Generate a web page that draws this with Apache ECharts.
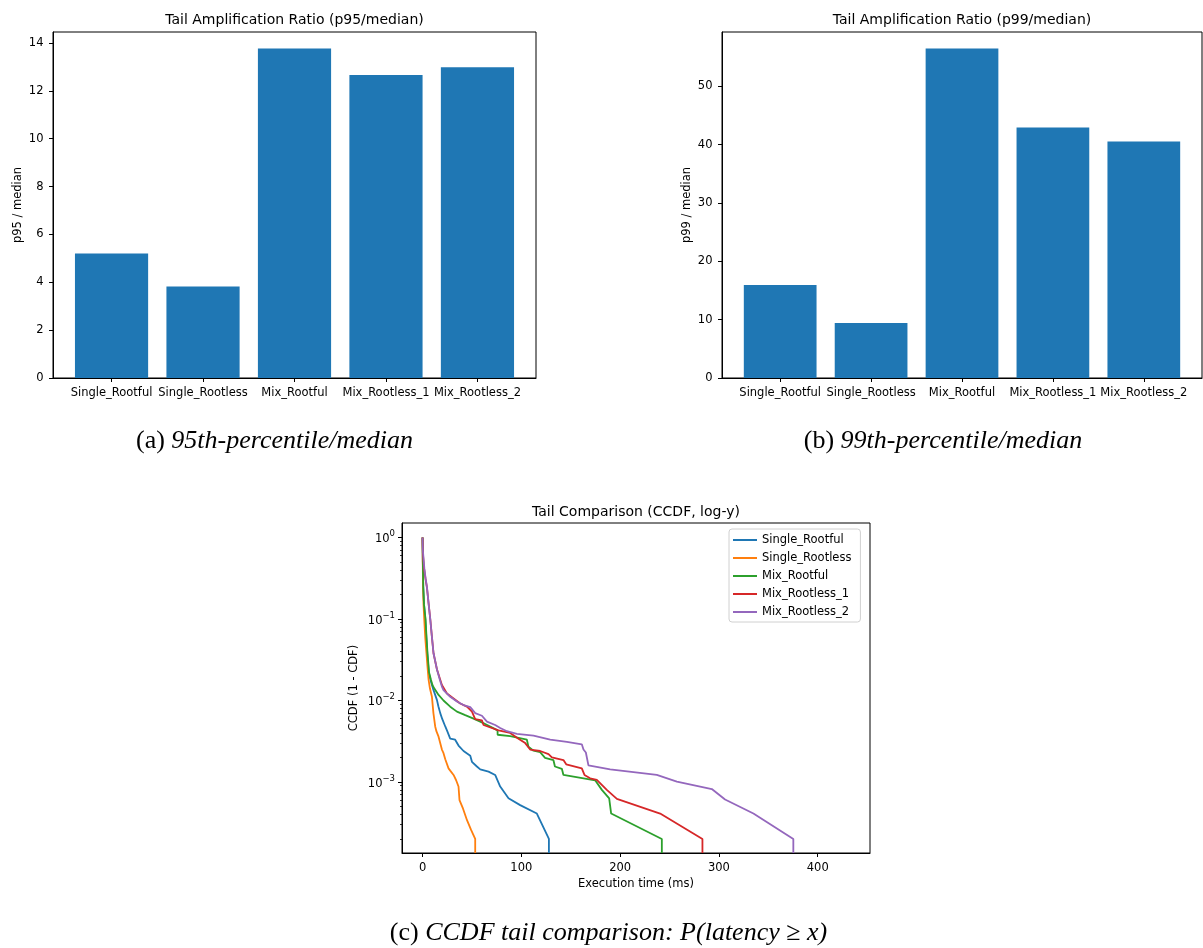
<!DOCTYPE html>
<html>
<head>
<meta charset="utf-8">
<script src="https://cdn.jsdelivr.net/npm/echarts@6/dist/echarts.min.js"></script>
<style>
  html, body { margin: 0; padding: 0; background: #ffffff; }
  #chart { width: 1203px; height: 948px; }
</style>
</head>
<body>
<div id="chart"></div>
<script>
// ---- data ----
const categories = ['Single_Rootful', 'Single_Rootless', 'Mix_Rootful', 'Mix_Rootless_1', 'Mix_Rootless_2'];
const p95Ratio = [5.2, 3.82, 13.77, 12.66, 12.99];
const p99Ratio = [15.94, 9.43, 56.5, 42.97, 40.57];

const p95Ticks = [0, 2, 4, 6, 8, 10, 12, 14];
const p99Ticks = [0, 10, 20, 30, 40, 50];
const timeTicks = [0, 100, 200, 300, 400];
const ccdfMajorTicks = [1, 0.1, 0.01, 0.001];
const ccdfMinorTicks = [
  2e-4, 3e-4, 4e-4, 5e-4, 6e-4, 7e-4, 8e-4, 9e-4,
  2e-3, 3e-3, 4e-3, 5e-3, 6e-3, 7e-3, 8e-3, 9e-3,
  2e-2, 3e-2, 4e-2, 5e-2, 6e-2, 7e-2, 8e-2, 9e-2,
  0.2, 0.3, 0.4, 0.5, 0.6, 0.7, 0.8, 0.9
];

// CCDF curves: [execution time (ms), P(latency >= x)]
const singleRootful = [[0,1],[0.3,0.5],[0.7,0.25],[1.5,0.15],[2.8,0.1],[3.8,0.06],[4.8,0.038],[6.3,0.022],[8,0.018],[9.5,0.0155],[10.5,0.0141],[12,0.0125],[14.6,0.0101],[16,0.0085],[17.9,0.007],[20,0.0059],[23,0.0048],[25,0.0042],[28,0.0034],[33,0.0033],[36.4,0.0028],[41.5,0.0024],[48.3,0.0021],[50,0.00177],[55,0.00155],[58.4,0.00143],[66.8,0.00134],[73.5,0.00122],[78.6,0.00088],[87,0.00063],[98.8,0.00052],[115.7,0.00041],[127.9,0.0002],[127.9,0]];
const singleRootless = [[0,1],[0.2,0.5],[0.5,0.25],[1,0.15],[1.7,0.1],[2.7,0.06],[3.8,0.04],[5,0.026],[6.1,0.018],[7.5,0.014],[9.5,0.0111],[11,0.007],[12.8,0.0048],[14,0.0042],[16.2,0.0036],[17,0.0033],[19.6,0.0025],[21,0.0023],[23,0.0019],[26.3,0.00147],[28,0.00138],[31.4,0.00122],[34,0.00105],[36.4,0.00088],[37.4,0.0006],[41,0.00047],[45,0.00034],[49,0.00026],[53.3,0.0002],[53.3,0]];
const mixRootful = [[0,1],[0.3,0.5],[0.7,0.25],[1.5,0.15],[3,0.1],[4,0.06],[5,0.038],[6.6,0.022],[8.5,0.018],[10,0.0155],[11.8,0.0141],[16.2,0.0117],[21.2,0.01],[28,0.0084],[34.8,0.0073],[43.2,0.0066],[51.6,0.006],[58.4,0.0055],[68.5,0.0048],[75.9,0.0043],[76,0.0038],[88.7,0.00366],[105.6,0.0033],[107.2,0.0027],[112.3,0.00242],[119,0.00232],[124,0.00198],[132.5,0.00185],[134,0.00155],[141,0.00145],[142.6,0.00122],[174.7,0.00105],[181.5,0.0008],[188.9,0.00063],[190.9,0.00041],[242.2,0.0002],[242.2,0]];
const mixRootless1 = [[0,1],[0.3,0.65],[1.5,0.42],[3,0.31],[4.5,0.24],[6,0.16],[7.8,0.1],[9.5,0.06],[11.1,0.038],[14.6,0.024],[17.9,0.018],[19.6,0.0155],[24.7,0.0122],[31.4,0.0106],[38.1,0.0092],[44.9,0.0084],[50,0.0073],[53.3,0.0059],[60.1,0.0057],[61.7,0.005],[76.9,0.0043],[88.7,0.004],[88.8,0.0038],[97.1,0.0034],[103.9,0.003],[108.9,0.0025],[119,0.0024],[127.5,0.0022],[130.9,0.002],[142.6,0.00186],[145.4,0.00165],[161.2,0.00147],[163.9,0.00122],[169.6,0.00111],[176.4,0.00106],[186.5,0.0008],[196.7,0.00062],[240.5,0.00041],[283.3,0.0002],[283.3,0]];
const mixRootless2 = [[0,1],[0.3,0.7],[1.8,0.42],[3,0.32],[4.4,0.25],[6,0.16],[7.8,0.1],[9.5,0.06],[11.1,0.038],[14.6,0.024],[17.5,0.018],[19.6,0.0148],[21.2,0.0134],[28,0.0111],[34.8,0.0097],[41.5,0.0088],[48.3,0.0083],[53.3,0.007],[60.1,0.0065],[65.2,0.0055],[73.5,0.005],[78.6,0.0046],[85.4,0.0042],[95.5,0.0039],[112.3,0.0037],[129.2,0.0033],[146.1,0.0031],[161.2,0.0029],[162.9,0.0025],[165.3,0.0023],[167.9,0.0016],[189.9,0.00143],[237.1,0.00122],[257.4,0.00101],[292.8,0.00082],[306.2,0.00061],[334.9,0.00041],[375.3,0.0002],[375.3,0]];

const ccdfSeries = [
  { name: 'Single_Rootful', data: singleRootful, color: '#1f77b4' },
  { name: 'Single_Rootless', data: singleRootless, color: '#ff7f0e' },
  { name: 'Mix_Rootful', data: mixRootful, color: '#2ca02c' },
  { name: 'Mix_Rootless_1', data: mixRootless1, color: '#d62728' },
  { name: 'Mix_Rootless_2', data: mixRootless2, color: '#9467bd' }
];

// ---- layout & style ----
const FONT = 'DejaVu Sans';
const SERIF = 'Liberation Serif';
const INK = '#000000';
const BAR_COLOR = '#1f77b4';

const frameA = { left: 53, top: 32, width: 483, height: 346 };
const frameB = { left: 722, top: 32, width: 480, height: 346 };
const frameC = { left: 402, top: 523, width: 468, height: 330 };

const barXLimits = [-0.64, 4.64];   // category units, 5 bars with margins
const p95Max = 14.46;
const p99Max = 59.33;
const timeLimits = [-20.8, 452.9];
const ccdfLimits = [1.345e-4, 1.506];

// inner grid that holds exactly the five category bands
function innerOf(frame) {
  const unit = frame.width / (barXLimits[1] - barXLimits[0]);
  return {
    left: frame.left + (-0.5 - barXLimits[0]) * unit,
    top: frame.top,
    width: categories.length * unit,
    height: frame.height
  };
}

const labelStyle = { fontFamily: FONT, fontSize: 11.5, color: INK };
const tickLine = { color: INK, width: 1 };

function gridOf(rect, withBorder) {
  return Object.assign({}, rect, {
    show: withBorder,
    borderColor: INK,
    borderWidth: 1,
    backgroundColor: 'transparent',
    containLabel: false,
    outerBoundsMode: 'none'
  });
}

function frameXAxis(gridIndex) {
  return {
    gridIndex, type: 'value', min: 0, max: 1, z: 5,
    axisLine: { show: true, onZero: false, lineStyle: tickLine },
    axisTick: { show: false }, axisLabel: { show: false }, splitLine: { show: false }
  };
}

function categoryXAxis(gridIndex) {
  return {
    gridIndex, type: 'category', data: categories,
    axisLine: { show: false },
    axisTick: { show: true, alignWithLabel: true, length: 4, lineStyle: tickLine },
    axisLabel: Object.assign({ interval: 0, margin: 9.5, hideOverlap: false }, labelStyle),
    splitLine: { show: false }
  };
}

function ratioYAxis(gridIndex, yMax, ticks, name) {
  return {
    gridIndex, type: 'value', min: 0, max: yMax,
    name, nameLocation: 'middle', nameGap: 29, nameRotate: 90,
    nameTextStyle: labelStyle,
    axisLine: { show: true, onZero: false, lineStyle: tickLine },
    axisTick: { show: true, length: 4, lineStyle: tickLine, customValues: ticks },
    axisLabel: Object.assign({ margin: 9.5, customValues: ticks }, labelStyle),
    splitLine: { show: false }
  };
}

function hiddenYAxis(gridIndex, yMax) {
  return { gridIndex, type: 'value', min: 0, max: yMax, show: false, splitLine: { show: false } };
}

function powerLabel(value) {
  const e = Math.round(Math.log10(value));
  const exp = e < 0 ? '\u2212' + (-e) : String(e);
  return '{b|10}{s|' + exp + '}';
}

function titleText(text, x, y) {
  return {
    type: 'text', x, y, silent: true,
    style: { text, fontFamily: FONT, fontSize: 14, fill: INK, align: 'center', verticalAlign: 'middle', textAlign: 'center', textVerticalAlign: 'middle' }
  };
}

function captionText(tag, body, x, y) {
  return {
    type: 'text', x, y, silent: true,
    style: {
      text: '{r|' + tag + '}{i|' + body + '}',
      align: 'center', verticalAlign: 'middle', textAlign: 'center', textVerticalAlign: 'middle',
      rich: {
        r: { fontFamily: SERIF, fontSize: 26, fill: INK },
        i: { fontFamily: SERIF, fontSize: 26, fontStyle: 'italic', fill: INK }
      }
    }
  };
}

const option = {
  animation: false,
  backgroundColor: '#ffffff',
  textStyle: { fontFamily: FONT, color: INK },
  grid: [
    gridOf(frameA, true),
    gridOf(innerOf(frameA), false),
    gridOf(frameB, true),
    gridOf(innerOf(frameB), false),
    gridOf(frameC, true)
  ],
  xAxis: [
    frameXAxis(0),
    categoryXAxis(1),
    frameXAxis(2),
    categoryXAxis(3),
    {
      gridIndex: 4, type: 'value', min: timeLimits[0], max: timeLimits[1], z: 5,
      name: 'Execution time (ms)', nameLocation: 'middle', nameGap: 25,
      nameTextStyle: labelStyle,
      axisLine: { show: true, onZero: false, lineStyle: tickLine },
      axisTick: { show: true, length: 4, lineStyle: tickLine, customValues: timeTicks },
      axisLabel: Object.assign({ margin: 9.5, customValues: timeTicks }, labelStyle),
      splitLine: { show: false }
    }
  ],
  yAxis: [
    ratioYAxis(0, p95Max, p95Ticks, 'p95 / median'),
    hiddenYAxis(1, p95Max),
    ratioYAxis(2, p99Max, p99Ticks, 'p99 / median'),
    hiddenYAxis(3, p99Max),
    {
      gridIndex: 4, type: 'log', logBase: 10, min: ccdfLimits[0], max: ccdfLimits[1],
      position: 'left',
      name: 'CCDF (1 - CDF)', nameLocation: 'middle', nameGap: 42, nameRotate: 90,
      nameTextStyle: labelStyle,
      axisLine: { show: true, onZero: false, lineStyle: tickLine },
      axisTick: { show: true, length: 4, lineStyle: tickLine, customValues: ccdfMajorTicks },
      axisLabel: {
        margin: 7, customValues: ccdfMajorTicks, formatter: powerLabel,
        rich: {
          b: { fontFamily: FONT, fontSize: 11.5, color: INK, lineHeight: 16, verticalAlign: 'bottom' },
          s: { fontFamily: FONT, fontSize: 8.5, color: INK, lineHeight: 8, verticalAlign: 'top' }
        }
      },
      splitLine: { show: false }
    },
    {
      gridIndex: 4, type: 'log', logBase: 10, min: ccdfLimits[0], max: ccdfLimits[1],
      position: 'left', offset: 0,
      axisLine: { show: false, onZero: false },
      axisTick: { show: true, length: 2, lineStyle: { color: INK, width: 0.8 }, customValues: ccdfMinorTicks },
      axisLabel: { show: false },
      splitLine: { show: false }
    }
  ],
  legend: {
    data: ccdfSeries.map(s => s.name),
    orient: 'vertical',
    left: 729, top: 529,
    padding: [4, 9, 3, 4],
    itemGap: 4,
    icon: 'rect',
    itemWidth: 24, itemHeight: 2,
    itemTextGap: 12,
    backgroundColor: '#ffffff',
    borderColor: '#d0d0d0', borderWidth: 1, borderRadius: 3,
    textStyle: Object.assign({ lineHeight: 14 }, labelStyle),
    selectedMode: false
  },
  series: [
    { type: 'bar', xAxisIndex: 1, yAxisIndex: 1, data: p95Ratio, barWidth: '80%', itemStyle: { color: BAR_COLOR } },
    { type: 'bar', xAxisIndex: 3, yAxisIndex: 3, data: p99Ratio, barWidth: '80%', itemStyle: { color: BAR_COLOR } }
  ].concat(ccdfSeries.map(s => ({
    type: 'line', name: s.name, xAxisIndex: 4, yAxisIndex: 4,
    // a zero CCDF lies below the log axis; keep it positive so it is clipped at the frame
    data: s.data.map(p => [p[0], p[1] > 0 ? p[1] : ccdfLimits[0] / 100]),
    symbol: 'none', showSymbol: false, clip: true,
    color: s.color,
    itemStyle: { color: s.color },
    lineStyle: { color: s.color, width: 1.8 },
    emphasis: { disabled: true }
  }))),
  graphic: [
    titleText('Tail Amplification Ratio (p95/median)', frameA.left + frameA.width / 2, 20.5),
    titleText('Tail Amplification Ratio (p99/median)', frameB.left + frameB.width / 2, 20.5),
    titleText('Tail Comparison (CCDF, log-y)', frameC.left + frameC.width / 2, 512.5),
    captionText('(a) ', '95th-percentile/median', 274.5, 441),
    captionText('(b) ', '99th-percentile/median', 943, 441),
    captionText('(c) ', 'CCDF tail comparison: P(latency \u2265 x)', 608.5, 933)
  ]
};

const chart = echarts.init(document.getElementById('chart'), null, { renderer: 'canvas' });
chart.setOption(option);
</script>
</body>
</html>
